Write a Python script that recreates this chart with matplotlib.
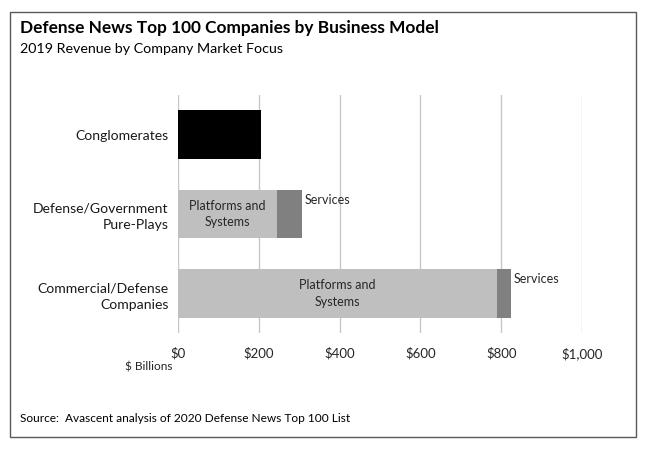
import matplotlib
matplotlib.use("Agg")
import matplotlib.pyplot as plt
from matplotlib.patches import Rectangle

plt.rcParams["font.family"] = ["Lato", "DejaVu Sans"]

categories = ["Conglomerates", "Defense/Government\nPure-Plays", "Commercial/Defense\nCompanies"]
platforms = [205, 245, 790]
services = [0, 62, 34]
seg_colors = ["#000000", "#bfbfbf", "#bfbfbf"]
ticks = [0, 200, 400, 600, 800, 1000]
tick_labels = ["$0", "$200", "$400", "$600", "$800", "$1,000"]

W, H = 648, 455
fig = plt.figure(figsize=(W / 100, H / 100), dpi=100)
ax = fig.add_axes([178 / W, 1 - 333 / H, (582 - 178) / W, (333 - 95) / H])

ypos = list(range(len(categories)))
ax.barh(ypos, platforms, height=0.61, color=seg_colors, zorder=2)
ax.barh(ypos, services, left=platforms, height=0.61, color="#808080", zorder=2)

for i in ypos:
    if services[i] > 0:
        ax.text(platforms[i] / 2, i, "Platforms and\nSystems", ha="center", va="center",
                fontsize=9, color="#262626", linespacing=1.45, zorder=3)
        ax.text(platforms[i] + services[i] + 6, i - 0.18, "Services", ha="left", va="center",
                fontsize=9, color="#262626")

ax.set_xlim(0, 1000)
ax.set_ylim(2.5, -0.5)
ax.set_xticks(ticks)
ax.set_xticklabels(tick_labels, fontsize=9.5, color="#262626")
ax.set_yticks(ypos)
ax.set_yticklabels(categories, fontsize=10.1, color="#1a1a1a", ha="right", linespacing=1.45)
ax.tick_params(axis="x", length=0, pad=10)
ax.tick_params(axis="y", length=0, pad=7)
ax.grid(axis="x", color="#c8c8c8", linewidth=1, zorder=0)
for s in ax.spines.values():
    s.set_visible(False)

fig.text(20 / W, 1 - 28 / H, "Defense News Top 100 Companies by Business Model", fontsize=12.4,
         fontweight="bold", va="center", ha="left", color="#000000")
fig.text(20 / W, 1 - 49 / H, "2019 Revenue by Company Market Focus", fontsize=10.3,
         va="center", ha="left", color="#000000")
fig.text(149 / W, 1 - 367 / H, "$ Billions", fontsize=8.6, va="center", ha="center", color="#262626")
fig.text(20 / W, 1 - 418 / H, "Source:  Avascent analysis of 2020 Defense News Top 100 List", fontsize=8.6,
         va="center", ha="left", color="#000000")

fig.patches.append(Rectangle((10 / W, 1 - 437 / H), (636 - 10) / W, (437 - 12) / H,
                             transform=fig.transFigure, fill=False, edgecolor="#595959", linewidth=1))

fig.savefig("out.png", dpi=100)
